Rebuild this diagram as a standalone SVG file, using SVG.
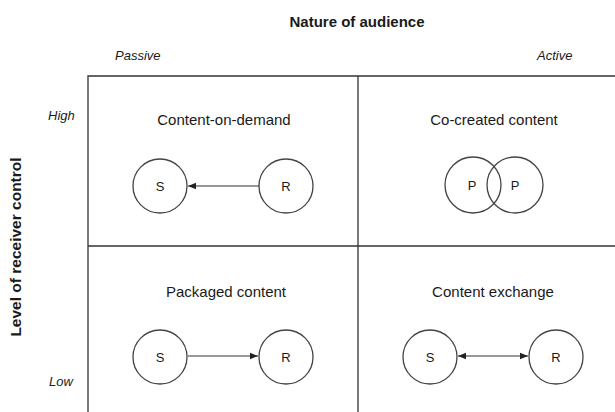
<svg xmlns="http://www.w3.org/2000/svg" width="615" height="412" viewBox="0 0 615 412">
<style>
text{font-family:"Liberation Sans",Arial,sans-serif;fill:#1a1a1a}
.title{font-size:15px;font-weight:bold}
.side{font-size:15.5px;font-weight:bold}
.ax{font-size:13px;font-style:italic}
.cell{font-size:15px;text-anchor:middle}
.lbl{font-size:13px;text-anchor:middle}
.grid{stroke:#333;stroke-width:1.3;fill:none}
.node{fill:#fff;stroke:#444;stroke-width:1.3}
.conn{stroke:#333;stroke-width:1.2;fill:none}
</style>
<defs>
<marker id="ah" viewBox="0 0 10 10" refX="10" refY="5" markerWidth="8" markerHeight="8" markerUnits="userSpaceOnUse" orient="auto-start-reverse">
<path d="M0,1 L10,5 L0,9 z" fill="#222"/>
</marker>
</defs>
<rect width="615" height="412" fill="#fff"/>
<g id="axes">
<text class="title" x="357" y="27" text-anchor="middle">Nature of audience</text>
<text class="ax" x="115" y="60">Passive</text>
<text class="ax" x="537" y="60">Active</text>
<text class="ax" x="48" y="120">High</text>
<text class="ax" x="49" y="386">Low</text>
<text class="side" transform="translate(21,247) rotate(-90)" text-anchor="middle">Level of receiver control</text>
</g>
<g id="grid" class="grid">
<path d="M88,412 V76 H615"/>
<path d="M358,76 V412"/>
<path d="M88,246 H615"/>
</g>
<g id="cell-tl">
<text class="cell" x="224" y="125">Content-on-demand</text>
<g id="tl-S"><circle class="node" cx="160" cy="186" r="27"/><text class="lbl" x="160" y="191">S</text></g>
<g id="tl-R"><circle class="node" cx="286" cy="186" r="27"/><text class="lbl" x="286" y="191">R</text></g>
</g>
<g id="cell-tr">
<text class="cell" x="494" y="125">Co-created content</text>
<g id="tr-P1"><circle class="node" cx="473" cy="185" r="28" style="fill:none"/><text class="lbl" x="472" y="190">P</text></g>
<g id="tr-P2"><circle class="node" cx="515" cy="185" r="28" style="fill:none"/><text class="lbl" x="515" y="190">P</text></g>
</g>
<g id="cell-bl">
<text class="cell" x="226" y="297">Packaged content</text>
<g id="bl-S"><circle class="node" cx="160" cy="357" r="27"/><text class="lbl" x="160" y="362">S</text></g>
<g id="bl-R"><circle class="node" cx="286" cy="357" r="27"/><text class="lbl" x="286" y="362">R</text></g>
</g>
<g id="cell-br">
<text class="cell" x="493" y="297">Content exchange</text>
<g id="br-S"><circle class="node" cx="430" cy="357" r="27"/><text class="lbl" x="430" y="362">S</text></g>
<g id="br-R"><circle class="node" cx="556" cy="357" r="27"/><text class="lbl" x="556" y="362">R</text></g>
</g>
<g id="connectors" class="conn">
<line x1="259" y1="186" x2="188" y2="186" marker-end="url(#ah)"/>
<line x1="188" y1="356" x2="258" y2="356" marker-end="url(#ah)"/>
<line x1="458" y1="356" x2="528" y2="356" marker-start="url(#ah)" marker-end="url(#ah)"/>
</g>
</svg>
